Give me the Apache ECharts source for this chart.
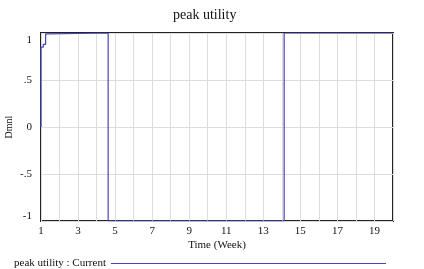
<!DOCTYPE html>
<html>
<head>
<meta charset="utf-8">
<title>peak utility</title>
<script src="https://cdn.jsdelivr.net/npm/echarts@6/dist/echarts.min.js"></script>
<style>
  html, body { margin: 0; padding: 0; background: #fff; }
  #chart { width: 424px; height: 269px; }
</style>
</head>
<body>
<div id="chart"></div>
<script>
  // data (step output of a simulation)
  var seriesName = 'peak utility : Current';
  var times = [1, 1, 1.125, 1.25, 1.375, 4.625, 14.125, 20];
  var values = [0, 0.85, 0.88, 0.99, 1, -1, 1, 1];
  var yTickValues = [-1, -0.5, 0, 0.5, 1];
  var yTickLabels = ['-1', '-.5', '0', '.5', '1'];

  var serif = "'Liberation Serif', 'Times New Roman', serif";
  var lineColor = '#4444b8';

  var points = times.map(function (t, i) { return [t, values[i]]; });

  var chart = echarts.init(document.getElementById('chart'), null, { renderer: 'canvas' });
  chart.setOption({
    animation: false,
    title: {
      text: 'peak utility',
      left: 168,
      top: 3,
      textStyle: { fontFamily: serif, fontSize: 14, fontWeight: 'normal', color: '#111' }
    },
    legend: {
      data: [seriesName],
      left: 9,
      top: 253,
      align: 'right',
      itemWidth: 275,
      itemHeight: 8,
      itemStyle: { opacity: 0 },
      lineStyle: { color: lineColor, width: 1 },
      textStyle: { fontFamily: serif, fontSize: 11, color: '#111' }
    },
    grid: {
      left: 41,
      right: 31,
      top: 33,
      bottom: 48,
      containLabel: false,
      outerBoundsMode: 'none',
      show: true,
      borderColor: '#222',
      borderWidth: 2
    },
    xAxis: {
      type: 'value',
      min: 1,
      max: 20,
      interval: 1,
      name: 'Time (Week)',
      nameLocation: 'middle',
      nameGap: 19,
      nameMoveOverlap: false,
      nameTextStyle: { fontFamily: serif, fontSize: 11, color: '#111' },
      axisLine: { show: false },
      axisTick: { show: false },
      axisLabel: {
        margin: 5,
        fontFamily: serif,
        fontSize: 11,
        color: '#111',
        showMaxLabel: false,
        formatter: function (v) { return (v % 2 === 1) ? String(v) : ''; }
      },
      splitLine: { show: true, lineStyle: { color: '#dcdcdc', width: 1 } }
    },
    yAxis: {
      type: 'value',
      min: -1,
      max: 1,
      interval: 0.5,
      name: 'Dmnl',
      nameLocation: 'middle',
      nameRotate: 90,
      nameGap: 27,
      nameMoveOverlap: false,
      nameTextStyle: { fontFamily: serif, fontSize: 10, color: '#111' },
      axisLine: { show: false },
      axisTick: { show: false },
      axisLabel: {
        margin: 9,
        fontFamily: serif,
        fontSize: 11,
        color: '#111',
        formatter: function (v) {
          var i = yTickValues.indexOf(v);
          var s = i >= 0 ? yTickLabels[i] : '';
          if (v === 1) return '{top|' + s + '}';
          if (v === -1) return '{bot|' + s + '}';
          return s;
        },
        rich: {
          top: { fontFamily: serif, fontSize: 11, color: '#111', padding: [14, 0, 0, 0] },
          bot: { fontFamily: serif, fontSize: 11, color: '#111', padding: [0, 0, 10, 0] }
        }
      },
      splitLine: { show: true, lineStyle: { color: '#dcdcdc', width: 1 } }
    },
    series: [{
      name: seriesName,
      type: 'line',
      data: points,
      step: 'end',
      symbol: 'none',
      lineStyle: { color: lineColor, width: 1.2 },
      itemStyle: { color: lineColor }
    }]
  });
</script>
</body>
</html>
